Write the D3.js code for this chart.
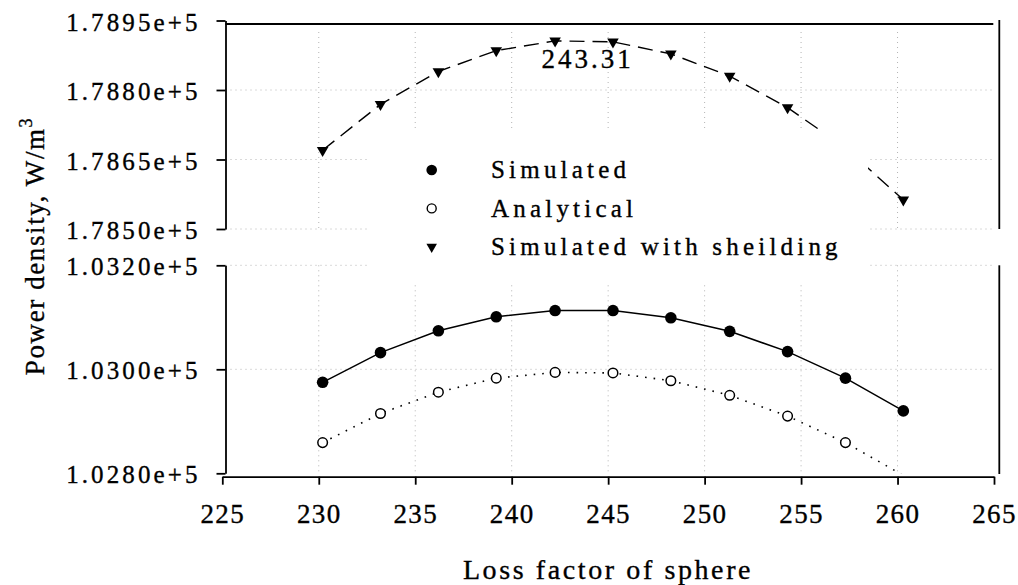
<!DOCTYPE html>
<html>
<head>
<meta charset="utf-8">
<script src="https://cdn.jsdelivr.net/npm/d3@7"></script>
<style>
  html, body { margin: 0; padding: 0; background: #fff; }
  svg { display: block; }
  svg, svg text { font-family: "Liberation Serif", "Times New Roman", Tinos, serif; fill: #000; }
  svg text { stroke: #000; stroke-width: 0.35px; }
</style>
</head>
<body>
<svg id="chart" width="1018" height="585"></svg>
<script>
// Loss factor of the sphere (x) for each computed point
const lossFactor = [230.2, 233.2, 236.2, 239.2, 242.25, 245.25, 248.25, 251.3, 254.3, 257.3, 260.3];
// Power density, W/m^3
const simulated = [102975, 103032, 103074, 103101, 103113, 103113, 103099, 103073, 103034, 102983, 102920];
const analytical = [102859, 102915, 102956, 102983, 102994, 102993, 102978, 102950, 102910, 102859, 102796];
const shielded = [178670, 178769, 178840, 178885, 178906, 178904, 178878, 178830, 178762, 178675, 178563];

const seriesNames = ["Simulated", "Analytical", "Simulated with sheilding"];
const peakLabel = 243.31;

const xTicks = [225, 230, 235, 240, 245, 250, 255, 260, 265];
const yTicksTop = [178500, 178650, 178800, 178950];
const yTicksBottom = [102800, 103000, 103200];

const FONT = '"Liberation Serif", "Times New Roman", Tinos, serif';

const svg = d3.select("#chart");

// Scales: one x scale, two stacked y panels (broken axis)
const x = d3.scaleLinear().domain([225, 265]).range([222.3, 994]);
const yTop = d3.scaleLinear().domain([178500, 178950]).range([229, 20.5]);
const yBot = d3.scaleLinear().domain([102800, 103200]).range([473.3, 265.3]);

const axisX = 225.5;
const plotRight = 994;
const fmtE = v => (v / 1e5).toFixed(4) + "e+5";

const defs = svg.append("defs");
defs.append("clipPath").attr("id", "clipTop")
  .append("rect").attr("x", axisX).attr("y", yTop.range()[1]).attr("width", plotRight - axisX).attr("height", yTop.range()[0] - yTop.range()[1]);
defs.append("clipPath").attr("id", "clipBot")
  .append("rect").attr("x", axisX).attr("y", yBot.range()[1]).attr("width", plotRight - axisX).attr("height", yBot.range()[0] - yBot.range()[1]);

// ---- grid ----
const grid = svg.append("g").attr("stroke", "#b4b4b4").attr("stroke-width", 1).attr("stroke-dasharray", "1,4").attr("fill", "none");
xTicks.slice(1, -1).forEach(t => {
  grid.append("line").attr("x1", x(t)).attr("x2", x(t)).attr("y1", 32).attr("y2", yTop(178500));
  grid.append("line").attr("x1", x(t)).attr("x2", x(t)).attr("y1", yBot(103200)).attr("y2", yBot(102800));
});
yTicksTop.slice(0, -1).forEach(t => {
  grid.append("line").attr("x1", axisX).attr("x2", plotRight).attr("y1", yTop(t)).attr("y2", yTop(t));
});
yTicksBottom.slice(1).forEach(t => {
  grid.append("line").attr("x1", axisX).attr("x2", plotRight).attr("y1", yBot(t)).attr("y2", yBot(t));
});

// ---- series ----
function drawSeries(values, yScale, clipId, lineStyle, marker) {
  const pts = lossFactor.map((lf, i) => [lf, values[i]]);
  const line = d3.line().x(d => x(d[0])).y(d => yScale(d[1]));
  const g = svg.append("g").attr("clip-path", `url(#${clipId})`);
  g.append("path").datum(pts).attr("d", line)
    .attr("fill", "none").attr("stroke", "#000")
    .attr("stroke-width", lineStyle.width)
    .attr("stroke-dasharray", lineStyle.dash || null);
  const [lo, hi] = yScale.domain();
  const inRange = pts.filter(d => d[1] >= lo && d[1] <= hi);
  marker(g.selectAll(null).data(inRange).enter(), d => x(d[0]), d => yScale(d[1]));
}

const filledCircle = (sel, fx, fy) => sel.append("circle").attr("cx", fx).attr("cy", fy).attr("r", 5.8).attr("fill", "#000");
const openCircle = (sel, fx, fy) => sel.append("circle").attr("cx", fx).attr("cy", fy).attr("r", 4.8)
  .attr("fill", "#fff").attr("stroke", "#000").attr("stroke-width", 1.5);
const triSymbol = d3.symbol().type(d3.symbolTriangle).size(58);
const downTriangle = (sel, fx, fy) => sel.append("path").attr("d", triSymbol)
  .attr("transform", d => `translate(${fx(d)},${fy(d)}) rotate(180)`).attr("fill", "#000");

drawSeries(simulated, yBot, "clipBot", { width: 1.5 }, filledCircle);
drawSeries(analytical, yBot, "clipBot", { width: 1.6, dash: "1.6,7" }, openCircle);
drawSeries(shielded, yTop, "clipTop", { width: 1.4, dash: "15,8" }, downTriangle);

// ---- legend ----
const legend = svg.append("g");
legend.append("rect").attr("x", 370).attr("y", 129).attr("width", 498).attr("height", 154).attr("fill", "#fff");
const legendMarkers = [
  (g) => g.append("circle").attr("r", 5.3).attr("fill", "#000"),
  (g) => g.append("circle").attr("r", 4.5).attr("fill", "#fff").attr("stroke", "#000").attr("stroke-width", 1.4),
  (g) => g.append("path").attr("d", d3.symbol().type(d3.symbolTriangle).size(48)).attr("transform", "rotate(180)").attr("fill", "#000")
];
seriesNames.forEach((name, i) => {
  const base = 178.3 + i * 38.4;
  const mg = legend.append("g").attr("transform", `translate(431.7,${base - 8.3})`);
  legendMarkers[i](mg);
  legend.append("text").attr("x", 491).attr("y", base).attr("font-family", FONT)
    .attr("font-size", 25).attr("letter-spacing", 4.2).text(name);
});

// ---- axes ----
function styleAxis(g, fontSize, spacing) {
  g.attr("font-family", FONT);
  g.selectAll("path.domain").attr("stroke", "#000").attr("stroke-width", 1.8);
  g.selectAll(".tick line").attr("stroke", "#000").attr("stroke-width", 1.8);
  g.selectAll(".tick text").attr("font-family", FONT)
    .attr("font-size", fontSize).attr("letter-spacing", spacing).attr("fill", "#000");
}

const gyTop = svg.append("g").attr("transform", `translate(${axisX},0)`)
  .call(d3.axisLeft(yTop).tickValues(yTicksTop).tickFormat(fmtE).tickSize(9).tickSizeOuter(0).tickPadding(16));
styleAxis(gyTop, 25, 3.1);
gyTop.selectAll(".tick text").attr("dy", "0.38em");

const gyBot = svg.append("g").attr("transform", `translate(${axisX},0)`)
  .call(d3.axisLeft(yBot).tickValues(yTicksBottom).tickFormat(fmtE).tickSize(9).tickSizeOuter(0).tickPadding(16));
styleAxis(gyBot, 25, 3.1);
gyBot.selectAll(".tick text").attr("dy", "0.38em");

const gx = svg.append("g").attr("transform", "translate(0,476.7)")
  .call(d3.axisBottom(x).tickValues(xTicks).tickFormat(d3.format("d")).tickSize(8).tickSizeOuter(0).tickPadding(19));
styleAxis(gx, 27, 1.4);

// frame lines of the panels
const frame = svg.append("g").attr("stroke", "#000").attr("stroke-width", 1.8);
frame.append("line").attr("x1", axisX).attr("x2", 993.3).attr("y1", 24).attr("y2", 24);
frame.append("line").attr("x1", 999.3).attr("x2", 999.3).attr("y1", 20).attr("y2", yTop(178500));
frame.append("line").attr("x1", 999.3).attr("x2", 999.3).attr("y1", yBot(103200)).attr("y2", 474);

// ---- annotation ----
svg.append("text").attr("x", x(peakLabel) + 12).attr("y", 67.7).attr("font-family", FONT)
  .attr("text-anchor", "middle").attr("font-size", 27).attr("letter-spacing", 3)
  .text(peakLabel.toFixed(2));

// ---- axis titles ----
svg.append("text").attr("x", 608).attr("y", 579).attr("font-family", FONT)
  .attr("text-anchor", "middle").attr("font-size", 28).attr("letter-spacing", 2.6)
  .text("Loss factor of sphere");

const yt = svg.append("text").attr("transform", "translate(44,246) rotate(-90)").attr("font-family", FONT)
  .attr("text-anchor", "middle").attr("font-size", 27).attr("letter-spacing", 1.6);
yt.append("tspan").text("Power density, W/m");
yt.append("tspan").attr("dy", -12).attr("font-size", 18).text("3");
</script>
</body>
</html>
